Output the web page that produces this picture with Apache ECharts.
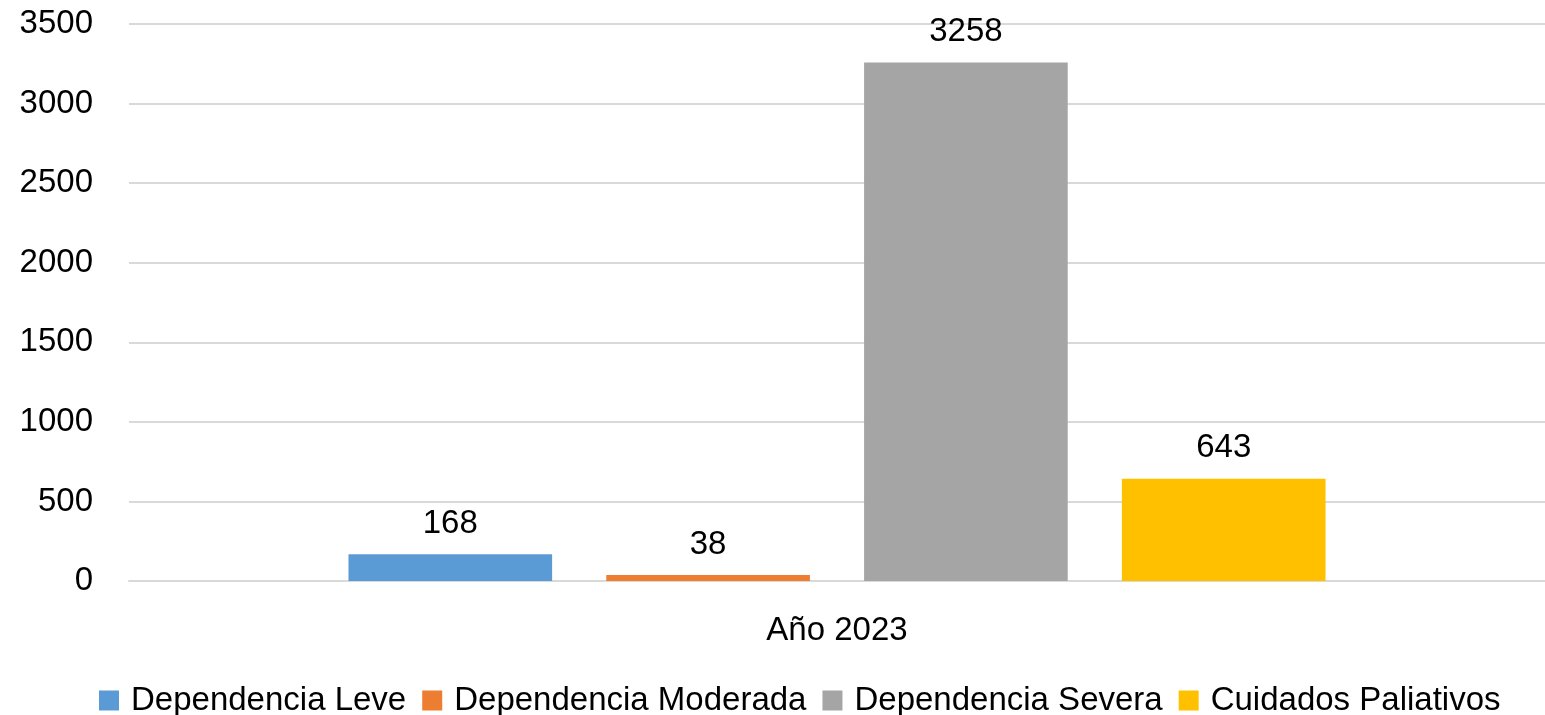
<!DOCTYPE html>
<html>
<head>
<meta charset="utf-8">
<script src="https://cdn.jsdelivr.net/npm/echarts@6/dist/echarts.min.js"></script>
<style>
  html, body { margin: 0; padding: 0; background: #fff; }
  #chart { width: 1545px; height: 715px; }
</style>
</head>
<body>
<div id="chart"></div>
<script>
const categories = ['Año 2023']
const seriesNames = ['Dependencia Leve', 'Dependencia Moderada', 'Dependencia Severa', 'Cuidados Paliativos']
const leve = [168]
const moderada = [38]
const severa = [3258]
const paliativos = [643]
const colors = ['#5B9BD5', '#ED7D31', '#A5A5A5', '#FFC000']

const font = 'Liberation Sans'
const chart = echarts.init(document.getElementById('chart'))

const values = [leve, moderada, severa, paliativos]
const series = seriesNames.map((name, i) => ({
  name,
  type: 'bar',
  data: values[i],
  barGap: '26.6%',
  barCategoryGap: '31%',
  itemStyle: { color: colors[i] },
  label: {
    show: true,
    position: 'top',
    distance: 14,
    color: '#000',
    fontFamily: font,
    fontSize: 33
  }
}))

chart.setOption({
  animation: false,
  textStyle: { fontFamily: font },
  legend: {
    data: seriesNames,
    left: 94,
    top: 679,
    icon: 'rect',
    itemWidth: 20,
    itemHeight: 20,
    itemGap: 16,
    textStyle: { color: '#000', fontSize: 33, fontFamily: font, padding: [0, 0, 0, 7] }
  },
  grid: { left: 129, right: 0, top: 24, bottom: 134 },
  xAxis: {
    type: 'category',
    data: categories,
    axisLine: { lineStyle: { color: '#D9D9D9', width: 2 } },
    axisTick: { show: false },
    axisLabel: { color: '#000', fontSize: 33, fontFamily: font, margin: 33 }
  },
  yAxis: {
    type: 'value',
    min: 0,
    max: 3500,
    interval: 500,
    axisLine: { show: false },
    axisTick: { show: false },
    splitLine: { lineStyle: { color: '#D9D9D9', width: 2 } },
    axisLabel: { color: '#000', fontSize: 33, fontFamily: font, margin: 36, formatter: v => String(v) }
  },
  series
})
</script>
</body>
</html>
